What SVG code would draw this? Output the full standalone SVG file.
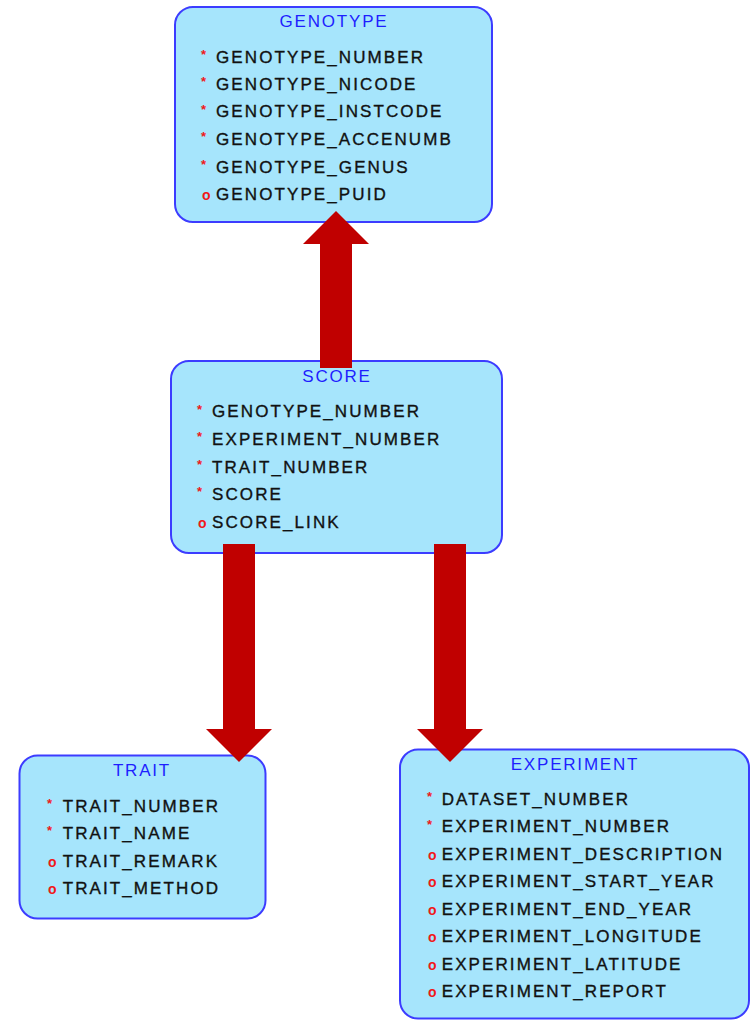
<svg xmlns="http://www.w3.org/2000/svg" width="753" height="1021" viewBox="0 0 753 1021">
<style>
.box{fill:#A6E5FC;stroke:#3C3CFF;stroke-width:2}
.title{font-family:"Liberation Sans",Arial,sans-serif;font-size:17px;fill:#1E1EFF;text-anchor:middle;letter-spacing:1.8px}
.f{font-family:"Liberation Sans",Arial,sans-serif;font-size:17px;fill:#111111;stroke:#111111;stroke-width:0.35;letter-spacing:2.1px}
.req{font-family:"Liberation Sans",Arial,sans-serif;font-size:13px;font-weight:bold;fill:#F01818}
.opt{font-family:"Liberation Sans",Arial,sans-serif;font-size:14px;font-weight:bold;fill:#F01818}
.arrow{fill:#C00000}
</style>
<rect width="753" height="1021" fill="#FFFFFF"/>
<g id="GENOTYPE">
<rect class="box" x="175" y="7" width="317" height="215" rx="18"/>
<text class="title" x="334" y="27">GENOTYPE</text>
<text class="req" x="201" y="59">*</text><text class="f" x="216" y="62.7">GENOTYPE_NUMBER</text>
<text class="req" x="201" y="86">*</text><text class="f" x="216" y="90">GENOTYPE_NICODE</text>
<text class="req" x="201" y="113.5">*</text><text class="f" x="216" y="117.3">GENOTYPE_INSTCODE</text>
<text class="req" x="201" y="141">*</text><text class="f" x="216" y="145">GENOTYPE_ACCENUMB</text>
<text class="req" x="201" y="168.5">*</text><text class="f" x="216" y="172.7">GENOTYPE_GENUS</text>
<text class="opt" x="202" y="200">o</text><text class="f" x="216" y="200">GENOTYPE_PUID</text>
</g>
<g id="SCORE">
<rect class="box" x="171" y="361" width="331" height="192" rx="18"/>
<text class="title" x="337" y="382.3">SCORE</text>
<text class="req" x="197" y="413.5">*</text><text class="f" x="212" y="417.3">GENOTYPE_NUMBER</text>
<text class="req" x="197" y="441">*</text><text class="f" x="212" y="445">EXPERIMENT_NUMBER</text>
<text class="req" x="197" y="468.5">*</text><text class="f" x="212" y="472.7">TRAIT_NUMBER</text>
<text class="req" x="197" y="496">*</text><text class="f" x="212" y="500">SCORE</text>
<text class="opt" x="198" y="527.7">o</text><text class="f" x="212" y="527.7">SCORE_LINK</text>
</g>
<g id="TRAIT">
<rect class="box" x="19.5" y="755.5" width="246" height="163" rx="18"/>
<text class="title" x="142" y="775.7">TRAIT</text>
<text class="req" x="47" y="808">*</text><text class="f" x="62.7" y="811.7">TRAIT_NUMBER</text>
<text class="req" x="47" y="835">*</text><text class="f" x="62.7" y="839">TRAIT_NAME</text>
<text class="opt" x="48" y="866.7">o</text><text class="f" x="62.7" y="866.7">TRAIT_REMARK</text>
<text class="opt" x="48" y="894">o</text><text class="f" x="62.7" y="894">TRAIT_METHOD</text>
</g>
<g id="EXPERIMENT">
<rect class="box" x="400" y="749.5" width="349" height="269" rx="18"/>
<text class="title" x="575" y="770">EXPERIMENT</text>
<text class="req" x="427" y="801">*</text><text class="f" x="441.7" y="805">DATASET_NUMBER</text>
<text class="req" x="427" y="828.5">*</text><text class="f" x="441.7" y="832.3">EXPERIMENT_NUMBER</text>
<text class="opt" x="428" y="860">o</text><text class="f" x="441.7" y="860">EXPERIMENT_DESCRIPTION</text>
<text class="opt" x="428" y="887.3">o</text><text class="f" x="441.7" y="887.3">EXPERIMENT_START_YEAR</text>
<text class="opt" x="428" y="915">o</text><text class="f" x="441.7" y="915">EXPERIMENT_END_YEAR</text>
<text class="opt" x="428" y="942.3">o</text><text class="f" x="441.7" y="942.3">EXPERIMENT_LONGITUDE</text>
<text class="opt" x="428" y="970">o</text><text class="f" x="441.7" y="970">EXPERIMENT_LATITUDE</text>
<text class="opt" x="428" y="997.3">o</text><text class="f" x="441.7" y="997.3">EXPERIMENT_REPORT</text>
</g>
<g id="connectors">
<polygon class="arrow" points="320,368 320,244 303,244 336,211 369,244 352,244 352,368"/>
<polygon class="arrow" points="223,544 255,544 255,729 272,729 239,762 206,729 223,729"/>
<polygon class="arrow" points="434,544 466,544 466,729 483,729 450,762 417,729 434,729"/>
</g>
</svg>
